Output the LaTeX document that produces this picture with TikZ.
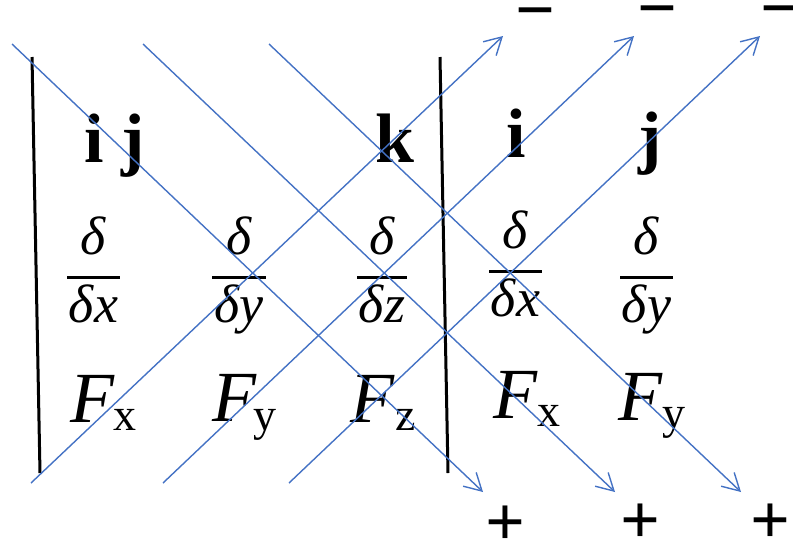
\documentclass[tikz,border=0pt]{standalone}
\usepackage{fontspec}
\setmainfont{Liberation Serif}
\usetikzlibrary{arrows.meta}
\definecolor{lineblue}{RGB}{68,114,196}
\begin{document}
\begin{tikzpicture}[x=1pt,y=-1pt,
  diag/.style={draw=lineblue, line width=1.4pt, -{Straight Barb[length=17pt,width=19pt]}},
  fracbar/.style={line width=3pt, black},
  vbar/.style={line width=3pt, black},
  boldtxt/.style={inner sep=0pt, anchor=base west, font=\fontsize{70}{70}\selectfont\bfseries},
  fnum/.style={inner sep=0pt, anchor=base, font=\fontsize{54}{54}\selectfont\itshape},
  bigF/.style={inner sep=0pt, anchor=base west, font=\fontsize{72}{72}\selectfont\itshape},
  subtxt/.style={inner sep=0pt, anchor=base west, font=\fontsize{46}{46}\selectfont},
  sign/.style={inner sep=0pt, anchor=center, font=\fontsize{70}{70}\selectfont\bfseries},
]
\useasboundingbox (0,0) rectangle (793,542);

% vertical bars
\coordinate (vl1) at (32,57);  \coordinate (vl2) at (40,473);
\coordinate (vr1) at (440,57); \coordinate (vr2) at (448,473);
\draw[vbar] (vl1) -- (vl2);
\draw[vbar] (vr1) -- (vr2);

% top row: unit vectors
\node[boldtxt] (i1) at (84,162) {i};
\node[boldtxt] (j1) at (121,162) {j};
\node[boldtxt] (k1) at (375,162) {k};
\node[boldtxt] (i2) at (506,157) {i};
\node[boldtxt] (j2) at (638,160) {j};

% middle row: fractions
\node[fnum] (n1) at (93.5,254) {δ};
\draw[fracbar] (67,277) -- (120,277);
\node[fnum] (d1) at (93.5,322) {δx};

\node[fnum] (n2) at (239,254) {δ};
\draw[fracbar] (212,277) -- (266,277);
\node[fnum] (d2) at (239,322) {δy};

\node[fnum] (n3) at (382,254) {δ};
\draw[fracbar] (357,277) -- (407,277);
\node[fnum] (d3) at (382,322) {δz};

\node[fnum] (n4) at (515.5,248) {δ};
\draw[fracbar] (489,271) -- (542,271);
\node[fnum] (d4) at (515.5,316) {δx};

\node[fnum] (n5) at (646.5,254) {δ};
\draw[fracbar] (620,277) -- (673,277);
\node[fnum] (d5) at (646.5,322) {δy};

% bottom row: components
\node[bigF] (F1) at (70,422) {F};   \node[subtxt] (s1) at (113,430) {x};
\node[bigF] (F2) at (212,421) {F};  \node[subtxt] (s2) at (253,430) {y};
\node[bigF] (F3) at (350,422) {F};  \node[subtxt] (s3) at (395,430) {z};
\node[bigF] (F4) at (493,418) {F};  \node[subtxt] (s4) at (537,426) {x};
\node[bigF] (F5) at (618,420) {F};  \node[subtxt] (s5) at (662,428) {y};

% signs
\node[sign] (m1) at (535,21) {−};
\node[sign] (m2) at (657,19) {−};
\node[sign] (m3) at (780,19) {−};
\node[sign] (p1) at (505.5,526) {+};
\node[sign] (p2) at (640,524) {+};
\node[sign] (p3) at (770,524) {+};

% diagonal arrows, down-right
\coordinate (a1) at (12,44);   \coordinate (b1) at (483,492);
\coordinate (a2) at (143,44);  \coordinate (b2) at (615,492);
\coordinate (a3) at (269,44);  \coordinate (b3) at (741,492);
\draw[diag] (a1) -- (b1);
\draw[diag] (a2) -- (b2);
\draw[diag] (a3) -- (b3);

% diagonal arrows, up-right
\coordinate (c1) at (31,483);  \coordinate (e1) at (503,36);
\coordinate (c2) at (163,483); \coordinate (e2) at (634,36);
\coordinate (c3) at (289,483); \coordinate (e3) at (760,36);
\draw[diag] (c1) -- (e1);
\draw[diag] (c2) -- (e2);
\draw[diag] (c3) -- (e3);
\end{tikzpicture}
\end{document}
